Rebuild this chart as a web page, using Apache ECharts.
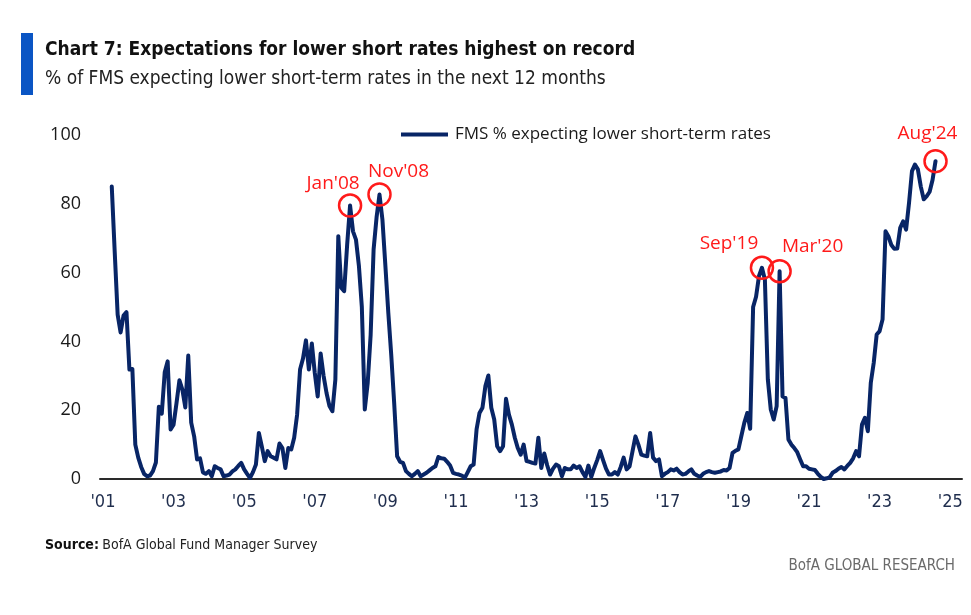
<!DOCTYPE html>
<html><head><meta charset="utf-8">
<script src="https://cdn.jsdelivr.net/npm/echarts@6/dist/echarts.min.js"></script>
<style>html,body{margin:0;padding:0;background:#fff}#c{width:971px;height:615px}</style>
</head><body><div id="c"></div>
<script>
// ---------------- DATA ----------------
const seriesName = 'FMS % expecting lower short-term rates';
const firstMonth = '2001-04';   // first survey month shown
// monthly % of FMS expecting lower short-term rates (Apr 2001 .. Aug 2024)
const fmsValues = [
  85, 66, 47.8, 42.6, 47.5, 48.5, 31.8, 32, 10,                       // 2001 Apr-Dec
  6.2, 3.5, 1.5, 0.8, 1, 2.3, 4.8, 21, 19, 31, 34.2, 14.4,             // 2002
  15.8, 22, 28.7, 26, 20.8, 35.9, 16.4, 12.4, 5.7, 6, 1.9, 1.5,        // 2003
  2.3, 0.8, 3.7, 3.2, 2.8, 0.8, 1, 1.3, 2.2, 2.8, 3.8, 4.7,            // 2004
  2.8, 1.5, 0.3, 2, 4.2, 13.4, 9.5, 5.2, 8.1, 6.6, 6.2, 5.7,           // 2005
  10.3, 9, 3.2, 9, 8.6, 12, 18.7, 31.8, 35, 40.3, 31.8, 39.4,          // 2006
  30.9, 24, 36.5, 30, 25, 21.2, 19.7, 28.9, 70.6, 55.6, 54.6, 68,      // 2007
  79.5, 72, 69.6, 62, 50, 20.2, 28, 42, 66.7, 76, 82.7, 75.4,          // 2008
  62, 48.3, 36, 22, 6.6, 5, 4.7, 2.3, 1.5, 0.8, 1.5, 2.3,              // 2009
  0.8, 1.3, 1.8, 2.5, 3.2, 3.7, 6.4, 6, 5.9, 5, 3.9, 1.8,              // 2010
  1.5, 1.3, 1, 0.3, 2, 3.7, 4.2, 14.4, 19.2, 20.7, 27, 30.1,           // 2011
  20.7, 17.3, 9.5, 8.1, 9.5, 23.3, 18.7, 15.8, 12, 9, 7.1, 10,         // 2012
  5.2, 5, 4.7, 4.5, 12, 3.2, 7.4, 4, 1.3, 3, 4.2, 3.7,                 // 2013
  0.8, 3.2, 2.8, 2.8, 3.9, 3.2, 3.7, 2, 0.6, 3.9, 0.6, 3.2,            // 2014
  5.5, 8.1, 5.5, 3, 1.3, 1.3, 2, 1.3, 3.5, 6.2, 2.8, 3.7,              // 2015
  8, 12.4, 10, 7.1, 6.8, 6.6, 13.4, 6.2, 5.2, 5.7, 0.8, 1.5,           // 2016
  2, 2.8, 2.5, 3, 2, 1.3, 1.5, 2.2, 2.8, 1.5, 1, 0.6,                  // 2017
  1.5, 2, 2.3, 2, 1.8, 2, 2.2, 2.6, 2.5, 3.2, 7.6, 8.2,                // 2018
  8.6, 12.5, 16.3, 19.2, 14.6, 50, 53, 59, 61.4, 58, 29, 20.2,         // 2019
  17.3, 21.2, 60.4, 24, 23.6, 11.5, 10, 9, 7.8, 5.7, 3.7, 3.7,         // 2020
  3, 2.8, 2.6, 1.5, 0.6, 0, 0.2, 0.5, 1.8, 2.3, 3, 3.5,                // 2021
  2.8, 3.8, 4.7, 6, 8.1, 6.6, 15.8, 17.8, 13.9, 28, 33.8, 42,          // 2022
  43, 46.4, 72, 70.5, 68, 66.9, 67, 73, 74.9, 72.5, 80.3, 89.5,        // 2023
  91.4, 90, 85, 81.3, 82.2, 83.5, 87, 92.4                              // 2024 Jan-Aug
];
const tickYears  = [2001, 2003, 2005, 2007, 2009, 2011, 2013, 2015, 2017, 2019, 2021, 2023, 2025];
const tickLabels = ["'01", "'03", "'05", "'07", "'09", "'11", "'13", "'15", "'17", "'19", "'21", "'23", "'25"];
const yTicks = [0, 20, 40, 60, 80, 100];
const annotationMonths = ['2008-01', '2008-11', '2019-09', '2020-03', '2024-08'];
const annotationLabels = ["Jan'08", "Nov'08", "Sep'19", "Mar'20", "Aug'24"];

// ---------------- STYLE ----------------
const labelOffsets = [[-17, -22], [19, -23], [-33, -24], [33, -25], [-8, -28]];
const NAVY = '#082566';
const RED = '#ff1a1a';
const HUMAN = '"Open Sans", "Noto Sans", sans-serif';
const NARROW = '"Liberation Sans Narrow", "DejaVu Sans Condensed", sans-serif';

function monthIndex(s) { const p = s.split('-').map(Number); return (p[0] - 2001) * 12 + (p[1] - 1); }
const start = monthIndex(firstMonth);
const points = fmsValues.map((v, i) => [start + i, v]);
const tickValues = tickYears.map(y => (y - 2001) * 12);

const markData = annotationMonths.map((m, i) => {
  const idx = monthIndex(m);
  return {
    name: annotationLabels[i],
    coord: [idx, fmsValues[idx - start]],
    label: { offset: labelOffsets[i] }
  };
});

const chart = echarts.init(document.getElementById('c'), null, { renderer: 'canvas' });
chart.setOption({
  backgroundColor: '#ffffff',
  animation: false,
  grid: { left: 100, right: 9, top: 135, bottom: 136, containLabel: false },
  legend: {
    show: true,
    left: 396, top: 121,
    icon: 'rect', itemWidth: 47, itemHeight: 4, itemGap: 10,
    textStyle: { fontFamily: HUMAN, fontSize: 17, color: '#1a1a1a', padding: [0, 0, 0, 2] },
    data: [seriesName]
  },
  xAxis: {
    type: 'value', min: -1, max: 292,
    axisLine: { show: true, onZero: false, lineStyle: { color: '#2a2a2a', width: 2 } },
    axisTick: { show: false },
    splitLine: { show: false },
    axisLabel: {
      customValues: tickValues,
      margin: 14,
      fontFamily: NARROW, fontSize: 18, color: '#1f2d4d',
      formatter: v => tickLabels[tickValues.indexOf(v)]
    }
  },
  yAxis: {
    type: 'value', min: 0, max: 100, interval: 20,
    axisLine: { show: false }, axisTick: { show: false }, splitLine: { show: false },
    axisLabel: {
      customValues: yTicks,
      margin: 19, fontFamily: HUMAN, fontSize: 18, color: '#1a1a1a'
    }
  },
  series: [{
    name: seriesName,
    type: 'line',
    data: points,
    showSymbol: false,
    symbol: 'none',
    lineStyle: { color: NAVY, width: 4, join: 'round', cap: 'round' },
    itemStyle: { color: NAVY },
    markPoint: {
      symbol: 'circle', symbolSize: 22,
      itemStyle: { color: 'rgba(0,0,0,0)', borderColor: RED, borderWidth: 2.5 },
      label: { show: true, position: 'inside', formatter: '{b}', color: RED, fontFamily: HUMAN, fontSize: 19 },
      data: markData
    }
  }],
  graphic: [
    { type: 'rect', left: 21, top: 33, shape: { width: 12, height: 62 }, style: { fill: '#0a55c4' } },
    { type: 'text', left: 45, top: 41, style: { text: 'Chart 7: Expectations for lower short rates highest on record', font: 'bold 19px ' + NARROW, fill: '#111' } },
    { type: 'text', left: 45, top: 70, style: { text: '% of FMS expecting lower short-term rates in the next 12 months', font: '19px ' + NARROW, fill: '#222' } },
    { type: 'text', left: 45, top: 538, style: { rich: { b: { fontWeight: 'bold', fontFamily: NARROW, fontSize: 14, fill: '#111' }, r: { fontFamily: NARROW, fontSize: 14, fill: '#222' } }, text: '{b|Source:} {r|BofA Global Fund Manager Survey}' } },
    { type: 'text', right: 16, top: 559, style: { text: 'BofA GLOBAL RESEARCH', font: '15px ' + NARROW, fill: '#6a6a6a' } }
  ]
});
</script>
</body></html>
